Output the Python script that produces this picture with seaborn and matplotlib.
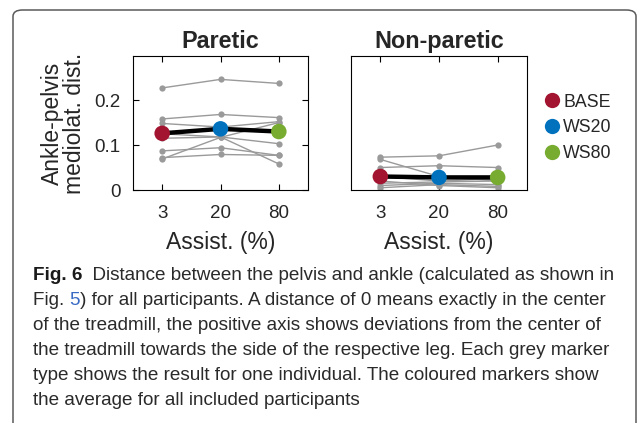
import matplotlib
matplotlib.use("Agg")
import matplotlib.pyplot as plt
import seaborn as sns
import pandas as pd
from matplotlib.patches import FancyBboxPatch
from matplotlib.lines import Line2D

sns.set_theme(style="white")
plt.rcParams['font.family'] = ['Liberation Sans', 'DejaVu Sans']

# ---------------- data ----------------
conditions = ["3", "20", "80"]
group_names = ["BASE", "WS20", "WS80"]
group_colors = ["#A2142F", "#0072BD", "#77AC30"]

paretic_p1 = [0.227, 0.246, 0.237]
paretic_p2 = [0.158, 0.168, 0.161]
paretic_p3 = [0.148, 0.140, 0.152]
paretic_p4 = [0.125, 0.118, 0.103]
paretic_p5 = [0.115, 0.118, 0.058]
paretic_p6 = [0.087, 0.094, 0.077]
paretic_p7 = [0.072, 0.079, 0.077]
paretic_p8 = [0.069, 0.117, 0.150]
paretic_mean = [0.126, 0.136, 0.130]

nonparetic_p1 = [0.073, 0.076, 0.100]
nonparetic_p2 = [0.068, 0.030, 0.020]
nonparetic_p3 = [0.050, 0.054, 0.050]
nonparetic_p4 = [0.030, 0.020, 0.025]
nonparetic_p5 = [0.015, 0.018, 0.020]
nonparetic_p6 = [0.010, 0.015, 0.012]
nonparetic_p7 = [0.005, 0.012, 0.008]
nonparetic_p8 = [0.020, 0.010, 0.005]
nonparetic_mean = [0.030, 0.028, 0.028]

paretic_all = [paretic_p1, paretic_p2, paretic_p3, paretic_p4,
               paretic_p5, paretic_p6, paretic_p7, paretic_p8]
nonparetic_all = [nonparetic_p1, nonparetic_p2, nonparetic_p3, nonparetic_p4,
                  nonparetic_p5, nonparetic_p6, nonparetic_p7, nonparetic_p8]

panel_titles = ["Paretic", "Non-paretic"]
y_label = "Ankle-pelvis\nmediolat. dist."
x_label = "Assist. (%)"
y_ticks = [0, 0.1, 0.2]
y_ticklabels = ["0", "0.1", "0.2"]

caption_lines = [
    [("Fig. 6", "bold", "#1a1a1a"), ("  Distance between the pelvis and ankle (calculated as shown in", "normal", "#2a2a2a")],
    [("Fig. ", "normal", "#2a2a2a"), ("5", "normal", "#3a6bc4"), (") for all participants. A distance of 0 means exactly in the center", "normal", "#2a2a2a")],
    [("of the treadmill, the positive axis shows deviations from the center of", "normal", "#2a2a2a")],
    [("the treadmill towards the side of the respective leg. Each grey marker", "normal", "#2a2a2a")],
    [("type shows the result for one individual. The coloured markers show", "normal", "#2a2a2a")],
    [("the average for all included participants", "normal", "#2a2a2a")],
]


def long_form(rows):
    recs = []
    for i, r in enumerate(rows):
        for c, v in zip(conditions, r):
            recs.append({"participant": i, "cond": c, "value": v})
    return pd.DataFrame(recs)


# ---------------- figure ----------------
W, H = 637, 423
fig = plt.figure(figsize=(W / 100, H / 100), dpi=100)

def px_axes(l, t, r, b):
    return fig.add_axes([l / W, 1 - b / H, (r - l) / W, (b - t) / H])

ax1 = px_axes(133, 56, 308, 190)
ax2 = px_axes(351, 56, 527, 190)

for ax, rows, mean, title in [(ax1, paretic_all, paretic_mean, panel_titles[0]),
                              (ax2, nonparetic_all, nonparetic_mean, panel_titles[1])]:
    df = long_form(rows)
    sns.lineplot(data=df, x="cond", y="value", units="participant", estimator=None,
                 color="#9a9a9a", lw=1.0, marker="o", markersize=4.5,
                 markeredgewidth=0, ax=ax, legend=False, sort=False)
    mdf = pd.DataFrame({"cond": conditions, "value": mean, "group": group_names})
    sns.lineplot(data=mdf, x="cond", y="value", color="black", lw=3.2, ax=ax,
                 legend=False, sort=False)
    sns.scatterplot(data=mdf, x="cond", y="value", hue="group", palette=group_colors,
                    s=125, linewidth=0, ax=ax, legend=False, zorder=5)
    ax.set_xlim(-0.5, 2.5)
    ax.set_ylim(0, 0.298)
    ax.set_title(title, fontsize=16.8, fontweight="bold", pad=6)
    ax.set_xlabel(x_label, fontsize=16.5, labelpad=6)
    ax.set_ylabel("")
    ax.tick_params(axis="x", direction="in", length=4, width=0.8, top=True,
                   bottom=True, labelsize=13.5, pad=11, color="black")
    for s in ax.spines.values():
        s.set_color("black")
        s.set_linewidth(0.8)

ax1.set_yticks(y_ticks)
ax1.set_yticklabels(y_ticklabels)
ax1.tick_params(axis="y", direction="in", length=4, width=0.8, left=True,
                right=True, labelsize=13.5, pad=9, color="black")
ax1.set_ylabel(y_label, fontsize=16.5, labelpad=6, linespacing=0.95)
ax2.set_yticks(y_ticks)
ax2.set_yticklabels([])
ax2.tick_params(axis="y", length=0)

# legend
handles = [Line2D([0], [0], marker="o", ls="", markersize=11, markerfacecolor=c,
                  markeredgewidth=0) for c in group_colors]
fig.legend(handles, group_names, loc="center left",
           bbox_to_anchor=(534 / W, 1 - 128 / H), frameon=False, fontsize=12.8,
           handletextpad=0.05, labelspacing=0.5, borderaxespad=0, handlelength=1.2)

# border
box = FancyBboxPatch((13 / W, -20 / H), (636 - 13) / W, (H - 10 + 20) / H,
                     boxstyle="round,pad=0,rounding_size=0.015",
                     transform=fig.transFigure, fill=False, edgecolor="#5a5a5a",
                     lw=1.1, clip_on=False)
fig.patches.append(box)

# caption
cap_family = ['Liberation Sans', 'DejaVu Sans']
renderer = fig.canvas.get_renderer()
# fit font size so that the first line spans the reference width
trial = 10.0
xw = 0
tmp = []
for txt, wt, col in caption_lines[0]:
    t = fig.text(0, 0, txt, fontsize=trial, fontweight=wt, family=cap_family)
    xw += t.get_window_extent(renderer).width
    tmp.append(t)
for t in tmp:
    t.remove()
cap_size = trial * 587 / xw

x0 = 33
base0 = 280
for i, line in enumerate(caption_lines):
    x = x0
    y = base0 + 25 * i
    for txt, wt, col in line:
        t = fig.text(x / W, 1 - y / H, txt, fontsize=cap_size, fontweight=wt,
                     color=col, family=cap_family, va="baseline", ha="left")
        x += t.get_window_extent(renderer).width

fig.savefig("out.png", dpi=100)
